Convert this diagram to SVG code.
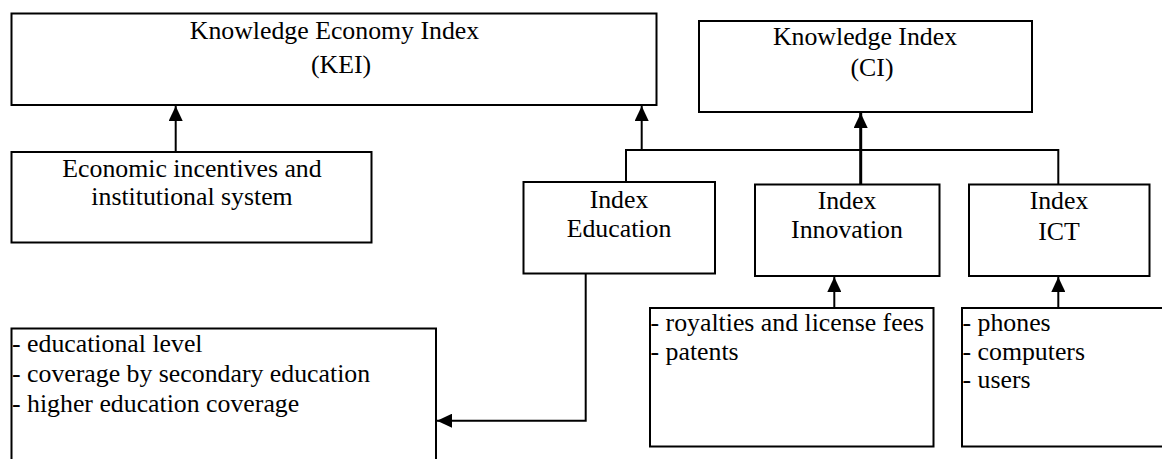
<svg xmlns="http://www.w3.org/2000/svg" width="1162" height="459" viewBox="0 0 1162 459">
  <style>
    .box { fill: #ffffff; stroke: #000000; stroke-width: 2; }
    text { font-family: "Liberation Serif", "Times New Roman", serif; font-size: 25.8px; fill: #000000; }
    .c { text-anchor: middle; }
    .conn { fill: none; stroke: #000000; stroke-width: 2; }
    .thick { stroke-width: 3; }
  </style>
  <defs>
    <marker id="arrow" markerUnits="userSpaceOnUse" markerWidth="16" markerHeight="14" refX="15" refY="7" orient="auto">
      <path d="M0,0 L15,7 L0,14 z" fill="#000000"/>
    </marker>
  </defs>
  <rect width="1162" height="459" fill="#ffffff"/>

  <g id="kei">
    <rect class="box" x="11.5" y="13.5" width="645" height="91.5"/>
    <text class="c" x="334.5" y="39">Knowledge Economy Index</text>
    <text class="c" x="341" y="73">(KEI)</text>
  </g>

  <g id="ci">
    <rect class="box" x="699" y="21" width="333" height="91"/>
    <text class="c" x="865" y="45">Knowledge Index</text>
    <text class="c" x="872" y="76">(CI)</text>
  </g>

  <g id="econ">
    <rect class="box" x="11.5" y="152" width="360" height="90.5"/>
    <text class="c" x="192" y="177">Economic incentives and</text>
    <text class="c" x="192" y="205">institutional system</text>
  </g>

  <g id="education">
    <rect class="box" x="523.5" y="182" width="191.5" height="91.5"/>
    <text class="c" x="619" y="208">Index</text>
    <text class="c" x="619" y="237">Education</text>
  </g>

  <g id="innovation">
    <rect class="box" x="755" y="184.5" width="184.5" height="91.5"/>
    <text class="c" x="847" y="209">Index</text>
    <text class="c" x="847" y="238">Innovation</text>
  </g>

  <g id="ict">
    <rect class="box" x="969" y="184.5" width="180.5" height="91.5"/>
    <text class="c" x="1059" y="209">Index</text>
    <text class="c" x="1059" y="240">ICT</text>
  </g>

  <g id="edu-list">
    <rect class="box" x="11.5" y="328.5" width="424.5" height="140"/>
    <text x="12" y="352">- educational level</text>
    <text x="12" y="382">- coverage by secondary education</text>
    <text x="12" y="411.5">- higher education coverage</text>
  </g>

  <g id="innov-list">
    <rect class="box" x="650" y="308" width="283.5" height="138.5"/>
    <text x="650.5" y="331">- royalties and license fees</text>
    <text x="650.5" y="359.5">- patents</text>
  </g>

  <g id="ict-list">
    <rect class="box" x="962" y="308" width="210" height="138.5"/>
    <text x="962.5" y="331">- phones</text>
    <text x="962.5" y="359.5">- computers</text>
    <text x="962.5" y="388">- users</text>
  </g>

  <g id="connectors">
    <line class="conn" x1="175.7" y1="152" x2="175.7" y2="106" marker-end="url(#arrow)"/>
    <line class="conn" x1="641.7" y1="150" x2="641.7" y2="106" marker-end="url(#arrow)"/>
    <polyline class="conn" points="626,182 626,150 1058.3,150 1058.3,184.5"/>
    <line class="conn thick" x1="860.7" y1="184.5" x2="860.7" y2="113" marker-end="url(#arrow)"/>
    <polyline class="conn" points="585.7,273.5 585.7,420.7 437,420.7" marker-end="url(#arrow)"/>
    <line class="conn" x1="834.3" y1="308" x2="834.3" y2="277" marker-end="url(#arrow)"/>
    <line class="conn" x1="1058.3" y1="308" x2="1058.3" y2="277" marker-end="url(#arrow)"/>
  </g>
</svg>
